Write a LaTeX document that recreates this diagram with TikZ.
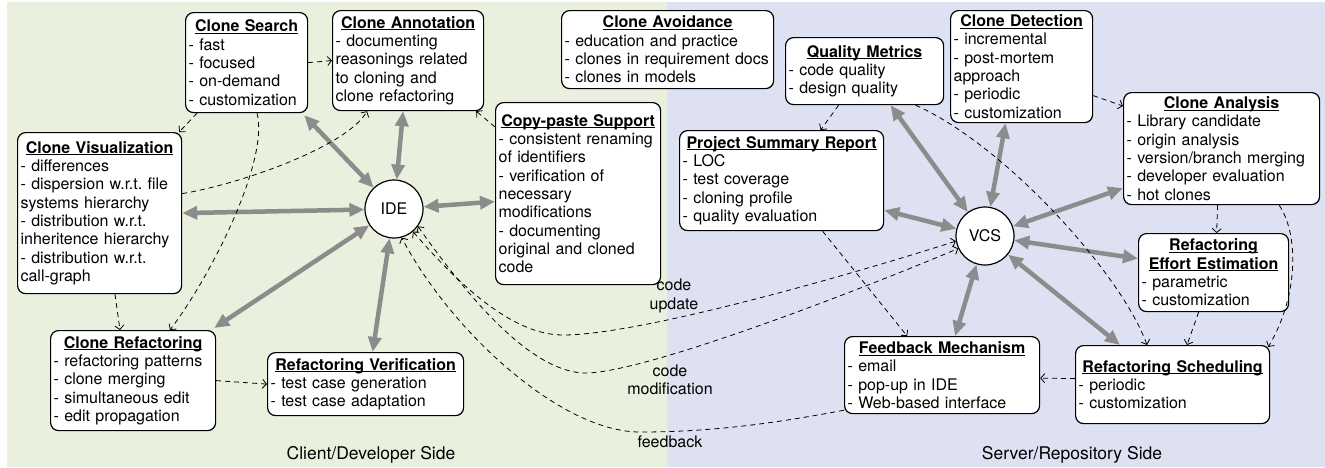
\documentclass[tikz,border=0pt]{standalone}
\usepackage{fontspec}
\setmainfont{TeX Gyre Heros}
\usetikzlibrary{arrows.meta}
\definecolor{bggreen}{RGB}{233,241,222}
\definecolor{bgblue}{RGB}{221,225,242}
\definecolor{agray}{RGB}{140,140,140}
\setlength\parindent{0pt}
\frenchspacing
\newcommand\ttl[1]{\noindent\makebox[\hsize][c]{\bfseries\setbox0=\hbox{#1}\rlap{\rule[-2.2pt]{\wd0}{1pt}}\box0}}
\begin{document}
\begin{tikzpicture}[x=1pt,y=-1pt,
  font=\fontsize{16pt}{18.3pt}\selectfont,
  box/.style={draw, line width=1.2pt, rounded corners=8pt, fill=white, align=left,
    inner xsep=3pt, inner ysep=2pt, anchor=north west},
  circ/.style={circle, draw, fill=white, line width=1.2pt, minimum size=58pt, inner sep=0pt},
  big/.style={draw=agray, line width=4.5pt,
    {Triangle[length=15pt,width=13pt]}-{Triangle[length=15pt,width=13pt]}},
  dsh/.style={draw, line width=0.8pt, dash pattern=on 5pt off 4pt,
    -{Straight Barb[length=4pt,width=9pt]}},
  dshb/.style={draw, line width=0.8pt, dash pattern=on 5pt off 4pt,
    {Straight Barb[length=4pt,width=9pt]}-{Straight Barb[length=4pt,width=9pt]}},
  lbl/.style={align=center, inner sep=0pt},
  side/.style={font=\fontsize{17.5pt}{20pt}\selectfont, inner sep=0pt}]
\useasboundingbox (0,0) rectangle (1325,467);
\fill[bggreen] (7,2) rectangle (667,467);
\fill[bgblue] (667,2) rectangle (1325,467);

% boxes
\node[box, text width=116pt, minimum height=100pt] (cs) at (185,12)
  {\ttl{Clone Search}\\- fast\\- focused\\- on-demand\\- customization};
\node[box, text width=145pt, minimum height=100pt] (ca) at (332,10)
  {\ttl{Clone Annotation}\\- documenting\\reasonings related\\to cloning and\\clone refactoring};
\node[box, text width=206pt, minimum height=78pt] (cav) at (561,10)
  {\ttl{Clone Avoidance}\\- education and practice\\- clones in requirement docs\\- clones in models};
\node[box, text width=152pt, minimum height=67pt] (qm) at (785,37)
  {\ttl{Quality Metrics}\\- code quality\\- design quality};
\node[box, text width=136pt, minimum height=112pt] (cd) at (950,10)
  {\ttl{Clone Detection}\\- incremental\\- post-mortem\\approach\\- periodic\\- customization};
\node[box, text width=190pt, minimum height=112pt] (can) at (1123,92)
  {\ttl{Clone Analysis}\\- Library candidate\\- origin analysis\\- version/branch merging\\- developer evaluation\\- hot clones};
\node[box, text width=158pt, minimum height=161pt] (cv) at (17,132)
  {\ttl{Clone Visualization}\\- differences\\- dispersion w.r.t. file\\systems hierarchy\\- distribution w.r.t.\\inheritence hierarchy\\- distribution w.r.t.\\call-graph};
\node[box, text width=159pt, minimum height=182pt] (cp) at (495,102)
  {\ttl{Copy-paste Support}\\- consistent renaming\\of identifiers\\- verification of\\necessary\\modifications\\- documenting\\original and cloned\\code};
\node[box, text width=198pt, minimum height=100pt] (psr) at (679,130)
  {\ttl{Project Summary Report}\\- LOC\\- test coverage\\- cloning profile\\- quality evaluation};
\node[box, text width=144pt, minimum height=78pt] (ree) at (1138,233)
  {\ttl{Refactoring}\\\ttl{Effort Estimation}\\- parametric\\- customization};
\node[box, text width=159pt, minimum height=100pt] (cr) at (50,330)
  {\ttl{Clone Refactoring}\\- refactoring patterns\\- clone merging\\- simultaneous edit\\- edit propagation};
\node[box, text width=190pt, minimum height=63pt] (rv) at (267,352)
  {\ttl{Refactoring Verification}\\- test case generation\\- test case adaptation};
\node[box, text width=189pt, minimum height=77pt] (fm) at (844,336)
  {\ttl{Feedback Mechanism}\\- email\\- pop-up in IDE\\- Web-based interface};
\node[box, text width=188pt, minimum height=78pt] (rs) at (1075,345)
  {\ttl{Refactoring Scheduling}\\- periodic\\- customization};

\node[circ] (ide) at (394,209) {IDE};
\node[circ] (vcs) at (985,236) {VCS};

% thick double arrows
\draw[big] (ide) -- ([xshift=-4pt,yshift=-2pt]cs.south east);
\draw[big] (ide) -- ([xshift=-5pt]ca.south);
\draw[big] (ide) -- ([yshift=-8pt]cp.west);
\draw[big] (cv.east) -- (ide);
\draw[big] (ide) -- ([xshift=-2pt,yshift=2pt]cr.north east);
\draw[big] (ide) -- ([xshift=7pt]rv.north);
\draw[big] (vcs) -- ([xshift=26pt]qm.south);
\draw[big] (vcs) -- ([xshift=-16pt]cd.south);
\draw[big] (vcs) -- ([yshift=17pt]can.south west);
\draw[big] (vcs) -- ([yshift=21pt]psr.south east);
\draw[big] (vcs) -- ([yshift=14pt]ree.west);
\draw[big] (vcs) -- ([xshift=45pt]rs.north west);
\draw[big] (vcs) -- ([xshift=13pt]fm.north);

% dashed arrows
\draw[dsh] (cs.east) -- (ca.west);
\draw[dsh] ([xshift=12pt]cs.south west) -- ([xshift=-3pt]cv.north east);
\draw[dsh] ([xshift=72pt]cs.south west) .. controls +(12,45) and +(45,-60) .. ([xshift=120pt]cr.north west);
\draw[dsh] ([yshift=19.5pt]cv.east) .. controls +(60,-10) and +(-20,35) .. ([xshift=35pt]ca.south west);
\draw[dsh] ([xshift=98pt]cv.south west) -- ([xshift=70pt]cr.north west);
\draw[dsh] (cr.east) -- (rv.west);
\draw[dsh] ([yshift=-25pt]cp.north west) -- ([xshift=-8pt]ca.south east);
\draw[dsh] ([xshift=-26pt]qm.south) -- ([xshift=39pt]psr.north);
\draw[dsh] ([xshift=51pt]qm.south) .. controls +(90,40) and +(-25,-70) .. ([xshift=72pt]rs.north west);
\draw[dsh] ([xshift=-4pt]can.south) -- ([xshift=3pt]ree.north);
\draw[dsh] ([xshift=-41pt]can.south east) .. controls +(20,30) and +(30,-50) .. ([xshift=-2pt,yshift=-2pt]rs.north east);
\draw[dsh] ([xshift=-15pt]ree.south) -- ([xshift=112pt]rs.north west);
\draw[dsh] ([yshift=-29pt]cd.east) -- ([yshift=-14pt]can.north west);
\draw[dsh] ([xshift=41pt]psr.south) -- ([xshift=-35pt]fm.north);
\draw[dsh] ([yshift=6pt]rs.west) -- ([yshift=-3pt]fm.east);
\draw[dsh] ([yshift=4pt]fm.south west) .. controls +(-84,16) and +(60,0) .. (640,432)
  .. controls (560,432) and (450,330) .. (ide.-75);
\draw[dshb] (ide.-50) .. controls (455,280) and (510,335) .. (563,335)
  .. controls (640,335) and (850,275) .. (vcs.190);
\draw[dshb] (ide.-36) .. controls (470,300) and (530,370) .. (583,373)
  .. controls (640,375) and (860,290) .. (vcs.205);

% labels
\node[lbl] (lu) at (674,296) {code\\update};
\node[lbl] (lm) at (670,380) {code\\modification};
\node[lbl] (lf) at (670,442) {feedback};
\node[side] (sc) at (371,455) {Client/Developer Side};
\node[side] (ss) at (1072,455) {Server/Repository Side};
\end{tikzpicture}
\end{document}
